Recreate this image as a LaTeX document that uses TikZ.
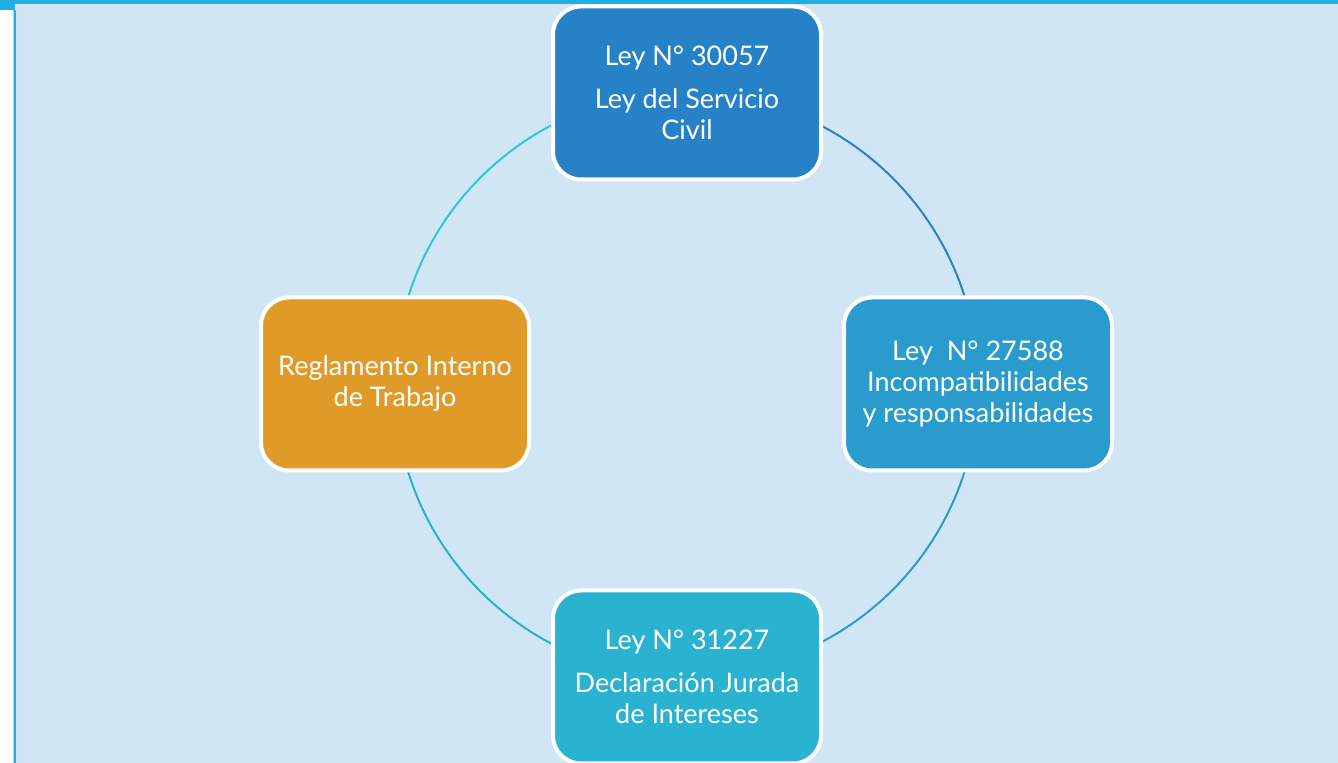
\documentclass[tikz,border=0pt]{standalone}
\usepackage{fontspec}
\setmainfont{Lato}
\usetikzlibrary{backgrounds}

\definecolor{pagebg}{HTML}{D1E6F4}
\definecolor{edgecyan}{HTML}{1EAFE6}
\definecolor{servirblue}{HTML}{2681C6}
\definecolor{incompblue}{HTML}{2A9BCD}
\definecolor{djicyan}{HTML}{29B3D1}
\definecolor{ritorange}{HTML}{E09A28}
\definecolor{ringa}{HTML}{2683C8}
\definecolor{ringb}{HTML}{2A9CD0}
\definecolor{ringc}{HTML}{29B1D3}
\definecolor{ringd}{HTML}{2DC8D4}

\begin{document}
\begin{tikzpicture}[x=0.5pt,y=0.5pt,
  lawbox/.style={draw=white,line width=2pt,rounded corners=14pt,
    minimum width=134pt,minimum height=86.5pt,align=center,
    text=white,font=\fontsize{13.5}{15.5}\selectfont},
  ring/.style={line width=1pt}]
\useasboundingbox (0,0) rectangle (1338,763);

\begin{scope}[on background layer]
\fill[white] (0,0) rectangle (1338,763);
\fill[pagebg] (16,0) rectangle (1338,759);
\fill[edgecyan] (0,759) rectangle (1338,763);
\fill[edgecyan] (0,753) rectangle (15,763);
\fill[edgecyan] (14,0) rectangle (16,753);
\fill[edgecyan!40] (13,0) rectangle (14,753);
\end{scope}

\node[lawbox,fill=servirblue] (servir) at (687,670)
  {Ley N° 30057\\[6pt] Ley del Servicio\\ Civil};
\node[lawbox,fill=incompblue] (incomp) at (978,379)
  {Ley\ \ N° 27588\\ Incompatibilidades\\ y responsabilidades};
\node[lawbox,fill=djicyan] (dji) at (687,86)
  {Ley N° 31227\\[6pt] Declaración Jurada\\ de Intereses};
\node[lawbox,fill=ritorange] (rit) at (395,379)
  {Reglamento Interno\\ de Trabajo};

% ring behind the boxes
\begin{scope}[on background layer]
\draw[ring,draw=ringa] (servir.center) arc[start angle=90,end angle=0,radius=145.5pt];
\draw[ring,draw=ringb] (incomp.center) arc[start angle=0,end angle=-90,radius=145.5pt];
\draw[ring,draw=ringc] (dji.center) arc[start angle=-90,end angle=-180,radius=146pt];
\draw[ring,draw=ringd] (rit.center) arc[start angle=180,end angle=90,radius=146pt];
\end{scope}
\end{tikzpicture}
\end{document}
